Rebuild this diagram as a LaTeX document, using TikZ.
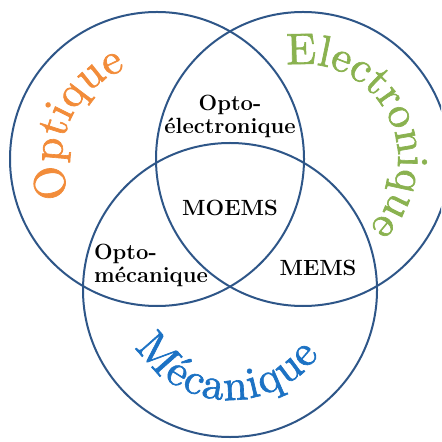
\documentclass[tikz,border=0pt]{standalone}
\usepackage{amsmath}
\usepackage{fontspec}
\usepackage{tikz}
\usetikzlibrary{decorations.text}

\newfontfamily\arcfont{lmroman10-regular.otf}[FakeBold=1.5]

\definecolor{ringblue}{RGB}{46,86,136}
\definecolor{optorange}{RGB}{242,140,58}
\definecolor{elecgreen}{RGB}{138,178,80}
\definecolor{mecablue}{RGB}{28,114,196}

\tikzset{
  ring/.style={draw=ringblue, line width=1pt},
  zone/.style={font=\fontsize{11}{12.5}\selectfont\bfseries, text=black, inner sep=1pt},
}

\begin{document}
\begin{tikzpicture}[x=.5pt,y=.5pt]
\useasboundingbox (0,0) rectangle (441,-442);
\clip (0,0) rectangle (441,-442);

\coordinate (copt) at (157,-159);
\coordinate (celec) at (303,-159);
\coordinate (cmeca) at (230,-290);

\draw[ring]
  (copt) circle[radius=147];
\draw[ring]
  (celec) circle[radius=147];
\draw[ring]
  (cmeca) circle[radius=147];

\path[decorate, decoration={text along path, text align=fit to path,
  text={|\arcfont\fontsize{22}{25}\selectfont\color{optorange}|Optique}}]
  (copt) ++(203:95) arc[start angle=203, end angle=111, radius=95];

\path[decorate, decoration={text along path, text align=fit to path,
  text={|\arcfont\fontsize{22}{25}\selectfont\color{elecgreen}|Electronique}}]
  (celec) ++(100:95) arc[start angle=100, end angle=-44, radius=95];

\path[decorate, decoration={text along path, text align=fit to path,
  text={|\arcfont\fontsize{22}{25}\selectfont\color{mecablue}|M{\'e}canique}}]
  (cmeca) ++(211:110) arc[start angle=211, end angle=324, radius=110];

\node[zone, align=center] (optoelec) at (230,-116) {Opto-\\[-1pt]\'electronique};
\node[zone] (moems) at (230,-208) {MOEMS};
\node[zone, align=left] (optomeca) at (151,-265) {Opto-\\[-1pt]m\'ecanique};
\node[zone] (mems) at (318,-268) {MEMS};
\end{tikzpicture}
\end{document}
